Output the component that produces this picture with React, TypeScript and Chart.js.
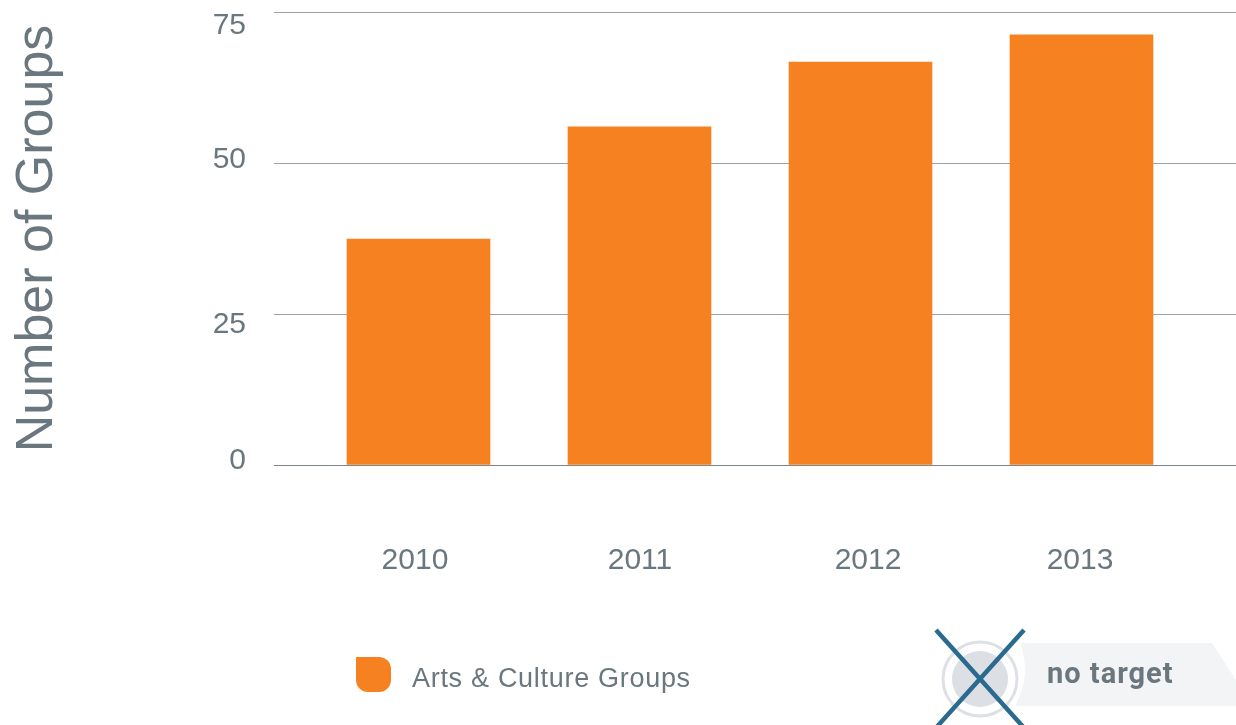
import React, { useEffect, useRef } from "react";
import { Chart, registerables } from "chart.js";

Chart.register(...registerables);

const years = [2010, 2011, 2012, 2013];
const groupCounts = [37.4, 56, 66.7, 71.2];
const countTicks = [0, 25, 50, 75];
const seriesName = "Arts & Culture Groups";
const axisTitle = "Number of Groups";
const badgeText = "no target";

const INK = "#6b777e";
const ORANGE = "#f68121";
const SANS = '"Liberation Sans", Arial, sans-serif';

// Hand-set label nudges of the printed layout, in px from the tick position.
const yearLabelNudge = [-3.5, 0.5, 7.5, -1.5];
const countLabelNudge: Record<number, number> = { 0: -4, 25: 11, 50: -3, 75: 14 };

const tickLabels = {
  id: "tickLabels",
  afterDatasetsDraw(chart: any) {
    const { ctx, scales } = chart;
    ctx.save();
    ctx.fillStyle = INK;
    ctx.font = `30px ${SANS}`;
    ctx.textBaseline = "middle";
    ctx.textAlign = "right";
    scales.y.ticks.forEach((t: any, i: number) => {
      ctx.fillText(String(t.value), 246, scales.y.getPixelForTick(i) + countLabelNudge[t.value]);
    });
    ctx.textAlign = "center";
    scales.x.ticks.forEach((t: any, i: number) => {
      ctx.fillText(String(t.value), scales.x.getPixelForTick(i) + yearLabelNudge[i], 561);
    });
    ctx.restore();
  },
};

// Legend key with a square top-left corner, beside the series name.
const seriesKey = {
  id: "seriesKey",
  afterDraw(chart: any) {
    const { ctx } = chart;
    const ds = chart.data.datasets[0];
    ctx.save();
    ctx.fillStyle = ds.backgroundColor;
    ctx.beginPath();
    ctx.roundRect(356, 657, 35, 35, [0, 12, 12, 12]);
    ctx.fill();
    ctx.fillStyle = INK;
    ctx.font = `27px ${SANS}`;
    ctx.letterSpacing = "0.7px";
    ctx.textAlign = "left";
    ctx.textBaseline = "middle";
    ctx.fillText(ds.label, 412, 680);
    ctx.restore();
  },
};

// "no target" tag: pale flag, ringed disc and a crossing X.
const targetBadge = {
  id: "targetBadge",
  afterDraw(chart: any) {
    const { ctx } = chart;
    const cx = 980;
    const cy = 679;
    ctx.save();
    ctx.fillStyle = "#f3f4f6";
    ctx.beginPath();
    ctx.moveTo(1020, 643);
    ctx.lineTo(1212, 643);
    ctx.lineTo(1236, 680);
    ctx.lineTo(1236, 706);
    ctx.lineTo(1015, 706);
    ctx.quadraticCurveTo(1032, 675, 1020, 643);
    ctx.closePath();
    ctx.fill();

    ctx.strokeStyle = "#dde0e4";
    ctx.lineWidth = 3;
    ctx.beginPath();
    ctx.arc(cx, cy, 37, 0, Math.PI * 2);
    ctx.stroke();

    ctx.fillStyle = "#dcdfe3";
    ctx.beginPath();
    ctx.arc(cx, cy, 28, 0, Math.PI * 2);
    ctx.fill();

    ctx.strokeStyle = "#2a6a8f";
    ctx.lineWidth = 4.5;
    ctx.beginPath();
    ctx.moveTo(936, 630);
    ctx.lineTo(1026, 730);
    ctx.moveTo(1024, 630);
    ctx.lineTo(934, 730);
    ctx.stroke();

    ctx.fillStyle = INK;
    ctx.font = `bold 29px Roboto, ${SANS}`;
    ctx.letterSpacing = "1px";
    ctx.textAlign = "left";
    ctx.textBaseline = "alphabetic";
    ctx.fillText(badgeText, 1047, 683);
    ctx.restore();
  },
};

export default function App() {
  const canvasRef = useRef<HTMLCanvasElement | null>(null);

  useEffect(() => {
    document.body.style.margin = "0";
    document.body.style.background = "#ffffff";
    const chart = new Chart(canvasRef.current!, {
      type: "bar",
      data: {
        datasets: [
          {
            label: seriesName,
            data: years.map((year, i) => ({ x: year, y: groupCounts[i] })),
            backgroundColor: ORANGE,
            borderWidth: 0,
            barThickness: 143,
          },
        ],
      },
      options: {
        animation: false,
        responsive: false,
        layout: { padding: { top: 12, left: 0, right: 0, bottom: 0 } },
        plugins: { legend: { display: false }, tooltip: { enabled: false } },
        scales: {
          x: {
            type: "linear",
            offset: false,
            min: 2009.3462,
            max: 2013.6991,
            grid: { display: false },
            border: { display: false },
            ticks: { display: false },
            afterBuildTicks: (scale: any) => {
              scale.ticks = years.map((value) => ({ value }));
            },
            afterFit: (scale: any) => {
              scale.height = 260;
            },
          },
          y: {
            min: 0,
            max: 75,
            grid: {
              color: (c: any) => (c.tick && c.tick.value === 0 ? "#7c868c" : "#9aa3a9"),
              lineWidth: 1,
              drawTicks: false,
            },
            border: { display: false },
            ticks: { display: false },
            afterBuildTicks: (scale: any) => {
              scale.ticks = countTicks.map((value) => ({ value }));
            },
            title: {
              display: true,
              text: axisTitle,
              color: INK,
              font: { family: SANS, size: 52, weight: "normal" },
              padding: { top: 6, bottom: 0 },
            },
            afterFit: (scale: any) => {
              scale.width = 274;
            },
          },
        },
      },
      plugins: [tickLabels, seriesKey, targetBadge],
    } as any);
    return () => chart.destroy();
  }, []);

  return (
    <div style={{ width: 1236, height: 725 }}>
      <canvas ref={canvasRef} width={1236} height={725} style={{ display: "block" }} />
    </div>
  );
}
